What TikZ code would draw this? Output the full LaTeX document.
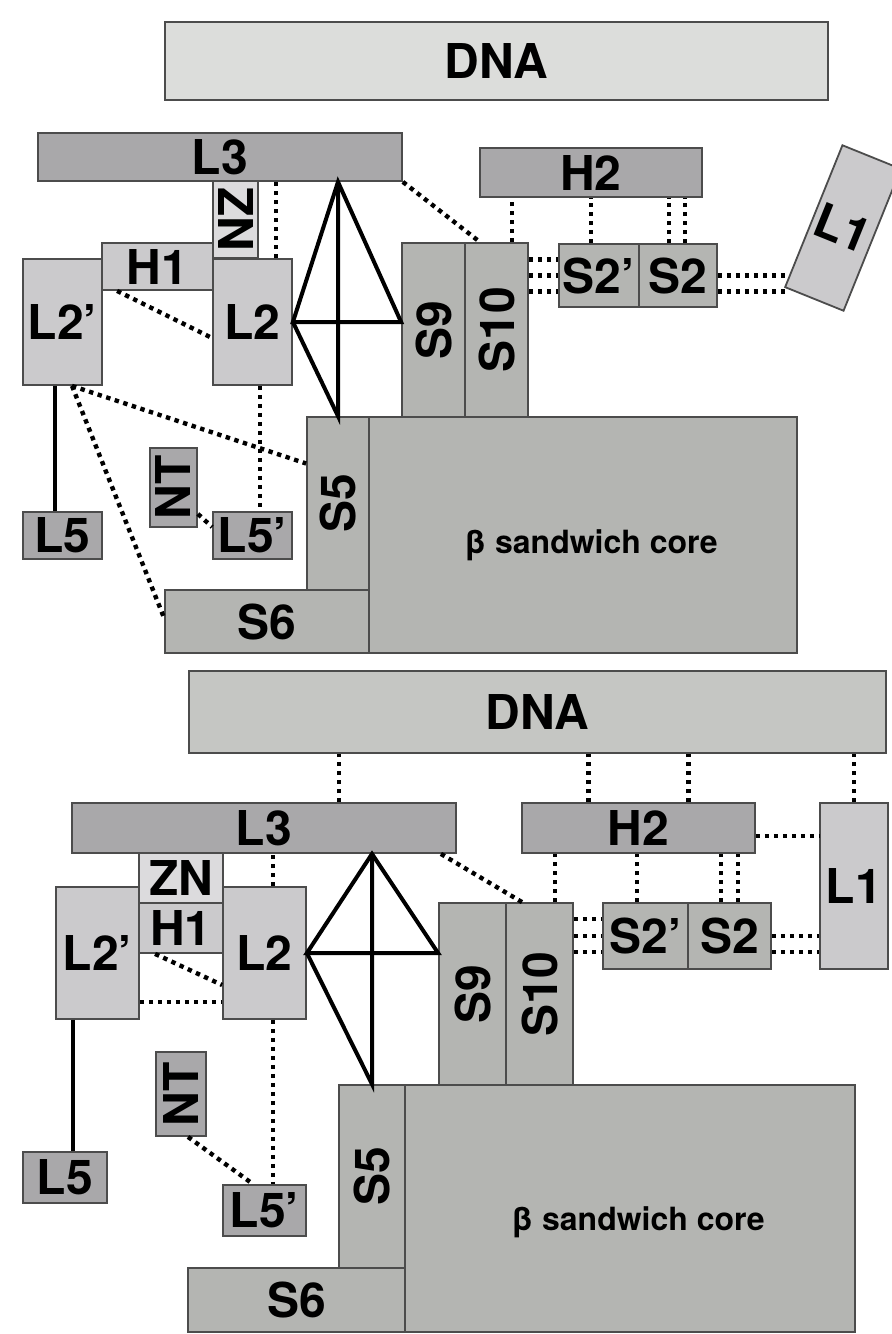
\documentclass[tikz,border=0pt]{standalone}
\usepackage{fontspec}
\setmainfont{TeX Gyre Heros}
\usepackage{graphicx}

\definecolor{dnatop}{HTML}{DCDDDB}
\definecolor{dnabot}{HTML}{C5C6C3}
\definecolor{loopgrey}{HTML}{A9A8AA}
\definecolor{palegrey}{HTML}{CBCACC}
\definecolor{zincgrey}{HTML}{DCDBDD}
\definecolor{strandgrey}{HTML}{B4B5B2}

\newcommand{\coretext}{\bfseries\fontsize{16}{16}\selectfont}

\tikzset{
    part/.style={draw=black!70, line width=0.9pt, inner sep=0pt, font=\bfseries\fontsize{24}{24}\selectfont},
    dark/.style={part, fill=loopgrey},
    pale/.style={part, fill=palegrey},
    strand/.style={part, fill=strandgrey},
    dots/.style={line width=2.2pt, dash pattern=on 2.2pt off 2.3pt},
    bond/.style={line width=2pt},
}

\begin{document}
\begin{tikzpicture}[x=0.5pt, y=-0.5pt]
\useasboundingbox[fill=white] (0,0) rectangle (892,1334);

% Top model: boxes
\node[part, fill=dnatop, minimum width=331.5pt, minimum height=39pt] (dnaA) at (496.5,61) {DNA};
\node[dark, minimum width=182pt, minimum height=24pt] (ltA) at (220,157) {L3};
\node[dark, minimum width=111pt, minimum height=24.5pt] (htwoA) at (591,172.5) {H2};
\node[pale, rotate=-22, minimum width=31.5pt, minimum height=76.5pt] (loneA) at (843,228) {L1};
\node[part, fill=zincgrey, minimum width=22.5pt, minimum height=38.5pt] (znA) at (235.5,219.5) {\rotatebox{-90}{ZN}};
\node[pale, minimum width=55.5pt, minimum height=23.5pt] (honeA) at (157.5,266.5) {H1};
\node[pale, minimum width=39.5pt, minimum height=63pt] (ltwopA) at (62.5,322) {L2’};
\node[pale, minimum width=39.5pt, minimum height=63pt] (ltwoA) at (252.5,322) {L2};
\node[strand, minimum width=31.5pt, minimum height=87pt] (snineA) at (433.5,330) {\rotatebox{90}{S9}};
\node[strand, minimum width=31.5pt, minimum height=87pt] (stenA) at (496.5,330) {\rotatebox{90}{S10}};
\node[strand, minimum width=40pt, minimum height=31.5pt] (stwopA) at (599,275.5) {S2’};
\node[strand, minimum width=39pt, minimum height=31.5pt] (stwoA) at (678,275.5) {S2};
\node[strand, minimum width=214pt, minimum height=118pt, text height=22pt, font=\coretext] (coreA) at (583,535) {\hspace*{8pt}β sandwich core};
\node[strand, minimum width=31pt, minimum height=86.5pt] (sfiveA) at (338,503.5) {\rotatebox{90}{S5}};
\node[strand, minimum width=102pt, minimum height=31.5pt] (ssixA) at (267,621.5) {S6};
\node[dark, minimum width=23.5pt, minimum height=39.5pt] (ntA) at (173.5,487.5) {\rotatebox{90}{NT}};
\node[dark, minimum width=39.5pt, minimum height=23.5pt] (lfiveA) at (62.5,535.5) {L5};
\node[dark, minimum width=39.5pt, minimum height=23.5pt] (lfivepA) at (252.5,535.5) {L5’};

% Top model: contacts
\draw[bond] (sfiveA.north |- ltA.south) -- (ltwoA.east) -- (ltwoA.east -| snineA.west) -- cycle;
\draw[bond] (sfiveA.north |- ltA.south) -- (sfiveA.north) -- (ltwoA.east);
\draw[bond, line width=1.6pt] ([xshift=-3.75pt]ltwopA.south) -- ([xshift=-3.75pt]lfiveA.north);
\draw[dots] ([xshift=11.75pt]ltwoA.north) -- ([xshift=11.75pt]ltwoA.north |- ltA.south);
\draw[dots] (ltA.south east) -- ([xshift=-8.25pt]stenA.north);
\draw[dots] ([xshift=8pt]honeA.south west) -- ([yshift=-8pt]ltwoA.west);
\draw[dots] ([xshift=3.75pt]ltwoA.south) -- ([xshift=3.75pt]lfivepA.north);
\draw[dots] ([xshift=4.75pt]ltwopA.south) -- ([yshift=20pt]sfiveA.west);
\draw[dots] ([xshift=4.75pt]ltwopA.south) -- ([yshift=1.75pt]ssixA.west);
\draw[dots] ([yshift=7pt]ntA.south east) -- ([yshift=4.25pt]lfivepA.west);
\draw[dots] ([xshift=7.75pt]stenA.north) -- ([xshift=7.75pt]stenA.north |- htwoA.south);
\draw[dots] ([xshift=-4pt]stwopA.north) -- ([xshift=-4pt]stwopA.north |- htwoA.south);
\foreach \dx in {-4.5pt,3.5pt}
    \draw[dots] ([xshift=\dx]stwoA.north) -- ([xshift=\dx]stwoA.north |- htwoA.south);
\foreach \dy in {8pt,0pt,-8pt}
    \draw[dots] ([yshift=\dy]stwopA.west -| stenA.east) -- ([yshift=\dy]stwopA.west);
\foreach \dy in {0pt,-8pt}
    \draw[dots] ([yshift=\dy]stwoA.east) -- ([yshift=\dy, xshift=2.5pt]stwoA.east -| loneA.south west);

% Bottom model: boxes
\node[part, fill=dnabot, minimum width=348.5pt, minimum height=41pt] (dnaB) at (537.5,712) {DNA};
\node[dark, minimum width=192pt, minimum height=25pt] (ltB) at (264,828) {L3};
\node[dark, minimum width=116.5pt, minimum height=25pt] (htwoB) at (638.5,828) {H2};
\node[pale, minimum width=34pt, minimum height=83pt] (loneB) at (854,886) {L1};
\node[part, fill=zincgrey, minimum width=42pt, minimum height=25pt] (znB) at (181,878) {ZN};
\node[pale, minimum width=42pt, minimum height=25pt] (honeB) at (181,928) {H1};
\node[pale, minimum width=41.5pt, minimum height=66pt] (ltwopB) at (97.5,953) {L2’};
\node[pale, minimum width=41.5pt, minimum height=66pt] (ltwoB) at (264.5,953) {L2};
\node[strand, minimum width=33.5pt, minimum height=91pt] (snineB) at (472.5,994) {\rotatebox{90}{S9}};
\node[strand, minimum width=33.5pt, minimum height=91pt] (stenB) at (539.5,994) {\rotatebox{90}{S10}};
\node[strand, minimum width=42.5pt, minimum height=33pt] (stwopB) at (645.5,936) {S2’};
\node[strand, minimum width=41.5pt, minimum height=33pt] (stwoB) at (729.5,936) {S2};
\node[strand, minimum width=225pt, minimum height=123.5pt, text height=26pt, font=\coretext] (coreB) at (630,1208.5) {\hspace*{8pt}β sandwich core};
\node[strand, minimum width=33pt, minimum height=91.5pt] (sfiveB) at (372,1176.5) {\rotatebox{90}{S5}};
\node[strand, minimum width=108.5pt, minimum height=32pt] (ssixB) at (296.5,1300) {S6};
\node[dark, minimum width=25pt, minimum height=42pt] (ntB) at (181,1094) {\rotatebox{90}{NT}};
\node[dark, minimum width=42pt, minimum height=25.5pt] (lfiveB) at (65,1177.5) {L5};
\node[dark, minimum width=41.5pt, minimum height=25.5pt] (lfivepB) at (264.5,1210.5) {L5’};

% Bottom model: contacts
\draw[bond] (sfiveB.north |- ltB.south) -- (ltwoB.east) -- (ltwoB.east -| snineB.west) -- cycle;
\draw[bond] (sfiveB.north |- ltB.south) -- (sfiveB.north) -- (ltwoB.east);
\draw[bond, line width=1.6pt] ([xshift=-12.25pt]ltwopB.south) -- ([xshift=-12.25pt]ltwopB.south |- lfiveB.north);
\draw[dots] ([xshift=37.5pt]ltB.north) -- ([xshift=37.5pt]ltB.north |- dnaB.south);
\foreach \dx in {-25pt,25pt}
    \draw[dots] ([xshift=\dx]htwoB.north) -- ([xshift=\dx]htwoB.north |- dnaB.south);
\draw[dots] (loneB.north) -- (loneB.north |- dnaB.south);
\draw[dots] ([yshift=-4pt]htwoB.east) -- ([yshift=-4pt]htwoB.east -| loneB.west);
\draw[dots] ([xshift=-8pt]ltB.south east) -- ([xshift=-8.75pt]stenB.north);
\draw[dots] ([xshift=4.25pt]ltwoB.north) -- ([xshift=4.25pt]ltwoB.north |- ltB.south);
\draw[dots] ([xshift=8.5pt]honeB.south west) -- ([yshift=-16pt]ltwoB.west);
\draw[dots] ([yshift=-24.5pt]ltwopB.east) -- ([yshift=-24.5pt]ltwopB.east -| ltwoB.west);
\draw[dots] ([xshift=4.25pt]ltwoB.south) -- ([xshift=4.25pt]ltwoB.south |- lfivepB.north);
\draw[dots] ([xshift=3.5pt]ntB.south) -- ([xshift=-5.75pt]lfivepB.north);
\draw[dots] ([xshift=7.75pt]stenB.north) -- ([xshift=7.75pt]stenB.north |- htwoB.south);
\draw[dots] ([xshift=-4.25pt]stwopB.north) -- ([xshift=-4.25pt]stwopB.north |- htwoB.south);
\foreach \dx in {-4.25pt,4.25pt}
    \draw[dots] ([xshift=\dx]stwoB.north) -- ([xshift=\dx]stwoB.north |- htwoB.south);
\foreach \dy in {8.5pt,0pt,-8pt}
    \draw[dots] ([yshift=\dy]stwopB.west -| stenB.east) -- ([yshift=\dy]stwopB.west);
\foreach \dy in {0pt,-8pt}
    \draw[dots] ([yshift=\dy]stwoB.east) -- ([yshift=\dy]stwoB.east -| loneB.west);

\end{tikzpicture}
\end{document}
